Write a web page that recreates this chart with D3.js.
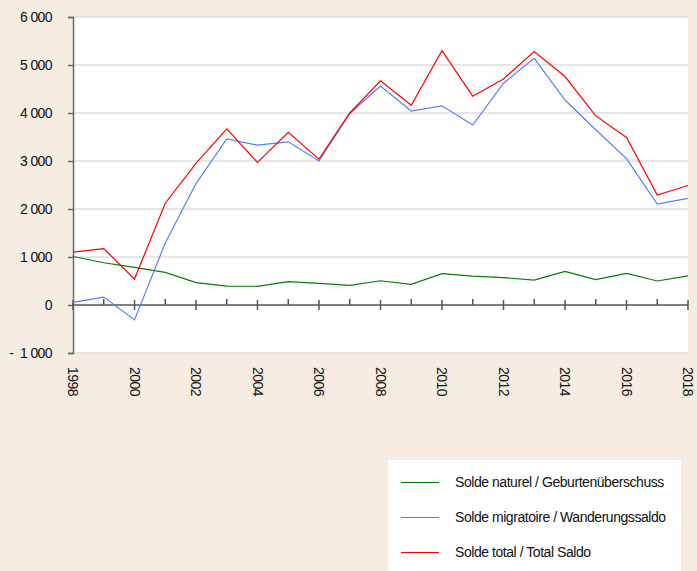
<!DOCTYPE html>
<html>
<head>
<meta charset="utf-8">
<script src="https://cdn.jsdelivr.net/npm/d3@7"></script>
<style>
  html, body { margin: 0; padding: 0; background: #f6ece2; }
  svg { display: block; font-family: "Liberation Sans", Arial, sans-serif; }
</style>
</head>
<body>
<svg id="chart" width="697" height="571"></svg>
<script>
// years on the x axis
var years = d3.range(1998, 2019);
// Solde naturel / Geburtenüberschuss
var naturel = [1010, 880, 785, 680, 465, 395, 390, 485, 450, 410, 505, 430, 655, 600, 570, 520, 700, 530, 660, 500, 605];
// Solde migratoire / Wanderungssaldo
var migratoire = [55, 165, -310, 1290, 2530, 3460, 3330, 3400, 3000, 3990, 4560, 4040, 4150, 3750, 4620, 5140, 4270, 3650, 3050, 2100, 2220];
// Solde total / Total Saldo
var total = [1100, 1175, 540, 2120, 2950, 3670, 2970, 3600, 3040, 4000, 4670, 4160, 5300, 4350, 4710, 5280, 4760, 3940, 3490, 2290, 2490];
var yTicks = [-1000, 0, 1000, 2000, 3000, 4000, 5000, 6000];
var xTickLabels = [1998, 2000, 2002, 2004, 2006, 2008, 2010, 2012, 2014, 2016, 2018];
var seriesNames = ['Solde naturel / Geburtenüberschuss', 'Solde migratoire / Wanderungssaldo', 'Solde total / Total Saldo'];
var seriesColors = ['#008000', '#5080ff', '#ff0000'];

var svg = d3.select('#chart');
var plot = { left: 73, right: 688, top: 17, bottom: 353 };

var x = d3.scaleLinear().domain([1998, 2018]).range([plot.left, plot.right]);
var y = d3.scaleLinear().domain([-1000, 6000]).range([plot.bottom, plot.top]);

// white plot area
svg.append('rect')
  .attr('x', plot.left).attr('y', plot.top)
  .attr('width', plot.right - plot.left).attr('height', plot.bottom - plot.top)
  .attr('fill', '#ffffff');

// gridlines
svg.append('g')
  .selectAll('line')
  .data(yTicks.filter(function (d) { return d !== 0; }))
  .enter()
  .append('line')
  .attr('x1', plot.left).attr('x2', plot.right)
  .attr('y1', function (d) { return y(d); })
  .attr('y2', function (d) { return y(d); })
  .attr('stroke', '#dedede')
  .attr('stroke-width', 1.5);

// y axis
var yAxis = svg.append('g')
  .attr('transform', 'translate(' + plot.left + ',0)')
  .call(d3.axisLeft(y).tickValues(yTicks).tickSize(5).tickPadding(16)
    .tickFormat(function (d) {
      var s = d3.format(',')(Math.abs(d)).replace(/,/g, ' ');
      return d < 0 ? '-\u00a0\u00a0' + s : s;
    }));
yAxis.select('.domain').attr('stroke', '#6b6b6b').attr('stroke-width', 1.5);
yAxis.selectAll('.tick line').attr('stroke', '#6b6b6b').attr('stroke-width', 1.5);
yAxis.selectAll('.tick text')
  .attr('fill', '#111')
  .style('font-size', '14px')
  .style('letter-spacing', '-0.6px');

// x axis at zero: even years cross the line, odd years point up
var xAxisG = svg.append('g');
xAxisG.append('line')
  .attr('x1', plot.left).attr('x2', plot.right)
  .attr('y1', y(0)).attr('y2', y(0))
  .attr('stroke', '#555').attr('stroke-width', 1.5);
xAxisG.selectAll('.tk')
  .data(years)
  .enter()
  .append('line')
  .attr('class', 'tk')
  .attr('x1', function (d) { return x(d); })
  .attr('x2', function (d) { return x(d); })
  .attr('y1', function (d) { return d % 2 === 0 ? y(0) - 5 : y(0) - 6; })
  .attr('y2', function (d) { return d % 2 === 0 ? y(0) + 5 : y(0); })
  .attr('stroke', '#555').attr('stroke-width', 1.5);

// rotated year labels below the plot
svg.append('g')
  .selectAll('text')
  .data(xTickLabels)
  .enter()
  .append('text')
  .attr('transform', function (d) { return 'translate(' + x(d) + ',' + 367 + ') rotate(90)'; })
  .attr('dy', '0.35em')
  .style('font-size', '14px')
  .style('letter-spacing', '-0.5px')
  .attr('fill', '#111')
  .text(function (d) { return d; });

// lines
var line = d3.line()
  .x(function (d, i) { return x(years[i]); })
  .y(function (d) { return y(d); });

[naturel, migratoire, total].forEach(function (s, i) {
  svg.append('path')
    .datum(s)
    .attr('d', line)
    .attr('fill', 'none')
    .attr('stroke', seriesColors[i])
    .attr('stroke-width', 1.2);
});

// legend
var legend = svg.append('g');
legend.append('rect')
  .attr('x', 388).attr('y', 460)
  .attr('width', 293).attr('height', 120)
  .attr('fill', '#ffffff');
var rows = legend.selectAll('g.row')
  .data(seriesNames)
  .enter()
  .append('g')
  .attr('class', 'row')
  .attr('transform', function (d, i) { return 'translate(0,' + (482.5 + i * 35) + ')'; });
rows.append('line')
  .attr('x1', 401).attr('x2', 439)
  .attr('y1', 0).attr('y2', 0)
  .attr('stroke', function (d, i) { return seriesColors[i]; })
  .attr('stroke-width', 1);
rows.append('text')
  .attr('x', 455)
  .attr('dy', '0.35em')
  .style('font-size', '14px')
  .style('letter-spacing', '-0.45px')
  .attr('fill', '#111')
  .text(function (d) { return d; });
</script>
</body>
</html>
